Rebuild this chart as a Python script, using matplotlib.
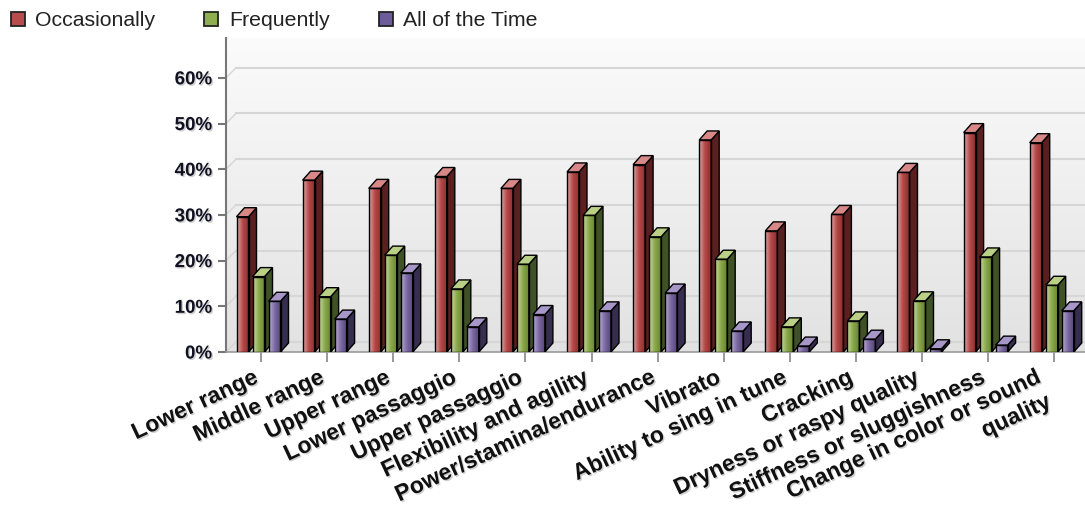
import numpy as np
import matplotlib.pyplot as plt
import matplotlib.patheffects as pe
from matplotlib.colors import LinearSegmentedColormap
from matplotlib.patches import Rectangle, Polygon
from matplotlib.lines import Line2D

categories = ["Lower range", "Middle range", "Upper range", "Lower passaggio",
              "Upper passaggio", "Flexibility and agility", "Power/stamina/endurance",
              "Vibrato", "Ability to sing in tune", "Cracking",
              "Dryness or raspy quality", "Stiffness or sluggishness",
              "Change in color or sound\nquality"]
occasionally = [29.6, 37.6, 35.8, 38.4, 35.8, 39.4, 41.0, 46.4, 26.5, 30.1, 39.3, 48.0, 45.8]
frequently = [16.5, 12.1, 21.2, 13.8, 19.2, 29.9, 25.2, 20.3, 5.5, 6.8, 11.2, 20.8, 14.6]
all_time = [11.1, 7.2, 17.3, 5.5, 8.2, 9.0, 12.9, 4.6, 1.3, 2.8, 0.7, 1.5, 9.0]
series_names = ["Occasionally", "Frequently", "All of the Time"]
yticks = [0, 10, 20, 30, 40, 50, 60]

# light / mid / dark front gradient, side face, top face, legend swatch
palettes = [
    ["#dba5a5", "#b54848", "#8e2f2f", "#5a1f1f", "#d98888", "#b84c4c"],
    ["#c6d8a0", "#8aa84b", "#67852f", "#3f5226", "#b9d086", "#8fae50"],
    ["#b8abd0", "#7b69a2", "#564678", "#372d4f", "#a797c8", "#6d5b9a"],
]

W, H = 1085, 508
fig = plt.figure(figsize=(W / 100, H / 100), dpi=100)
fig.patch.set_facecolor("white")

# axes box in pixels (right side runs past the figure edge, as in the source)
left, bottom, right, top = 226, 352, 1105, 38
ax = fig.add_axes([left / W, 1 - bottom / H, (right - left) / W, (bottom - top) / H])

step_px = 66.1   # pixels per category
unit_px = 4.57   # pixels per percent
xmin = -(261 - left) / step_px
xmax = xmin + (right - left) / step_px
ymax = (bottom - top) / unit_px

# back wall gradient
bg = LinearSegmentedColormap.from_list("bg", ["#e2e2e2", "#fbfbfb"])
ax.imshow(np.linspace(0, 1, 256).reshape(-1, 1), extent=[0, 1, 0, 1],
          transform=ax.transAxes, cmap=bg, aspect="auto", origin="lower", zorder=0)

# gridlines on the back wall, with the short diagonals from the axis
wdx, wdy = 10 / step_px, 10 / unit_px
for t in yticks:
    ax.plot([xmin + wdx, xmax], [t + wdy, t + wdy], color="#d6d6d6", lw=1.5, zorder=1)
    ax.plot([xmin, xmin + wdx], [t, t + wdy], color="#d6d6d6", lw=1.0, zorder=1)

bw = 12 / step_px
pitch = 16 / step_px
ddx, ddy = 8 / step_px, 9 / unit_px
shift = -2.5 / step_px

z = 3
for i in range(len(categories)):
    for j, vals in enumerate([occasionally, frequently, all_time]):
        light, mid, dark, side, topc, _ = palettes[j]
        h = vals[i]
        xc = i + shift + (j - 1) * pitch
        x0, x1 = xc - bw / 2, xc + bw / 2
        cmap = LinearSegmentedColormap.from_list("f", [light, mid, dark])
        im = ax.imshow(np.linspace(0, 1, 64).reshape(1, -1), cmap=cmap,
                       extent=[x0, x1, 0, h], aspect="auto", zorder=z)
        rect = Rectangle((x0, 0), bw, h, fill=False, ec="black", lw=1, zorder=z + 0.1)
        ax.add_patch(rect)
        im.set_clip_path(rect)
        ax.add_patch(Polygon([(x1, 0), (x1 + ddx, ddy), (x1 + ddx, h + ddy), (x1, h)],
                             fc=side, ec="black", lw=1, zorder=z))
        ax.add_patch(Polygon([(x0, h), (x1, h), (x1 + ddx, h + ddy), (x0 + ddx, h + ddy)],
                             fc=topc, ec="black", lw=1, zorder=z))
        z += 0.2

ax.set_xlim(xmin, xmax)
ax.set_ylim(0, ymax)

shadow = [pe.SimplePatchShadow(offset=(1, -1), shadow_rgbFace="#777777", alpha=0.35), pe.Normal()]

ax.set_xticks(range(len(categories)))
ax.set_xticklabels(categories, rotation=25, ha="right", va="top", rotation_mode="default",
                   fontsize=16.5, fontweight="bold", family="Liberation Sans", color="#111111")
ax.set_yticks(yticks)
ax.set_yticklabels([f"{t}%" for t in yticks], fontsize=13.5, fontweight="bold",
                   family="Liberation Sans", color="#111122")
for lab in ax.get_xticklabels() + ax.get_yticklabels():
    lab.set_path_effects(shadow)

ax.tick_params(axis="x", length=7, color="#888888", width=1.2, pad=3)
ax.tick_params(axis="y", length=6, color="#777777", width=1.5, pad=4)
ax.spines["top"].set_visible(False)
ax.spines["right"].set_visible(False)
ax.spines["left"].set_color("#777777")
ax.spines["left"].set_linewidth(1.5)
ax.spines["bottom"].set_color("#999999")
ax.spines["bottom"].set_linewidth(1.2)

handles = [Line2D([], [], ls="", marker="s", markersize=10, mfc=p[5], mec="#222222", mew=1.3)
           for p in palettes]
leg = fig.legend(handles, series_names, loc="upper left", bbox_to_anchor=(7 / W, 1 - 11 / H),
                 ncol=3, frameon=False, handlelength=1.0, handletextpad=0.32,
                 columnspacing=2.15, borderpad=0, borderaxespad=0,
                 prop={"family": "Liberation Sans", "size": 15.3})
for t in leg.get_texts():
    t.set_color("#222222")

fig.savefig("out.png", dpi=100)
